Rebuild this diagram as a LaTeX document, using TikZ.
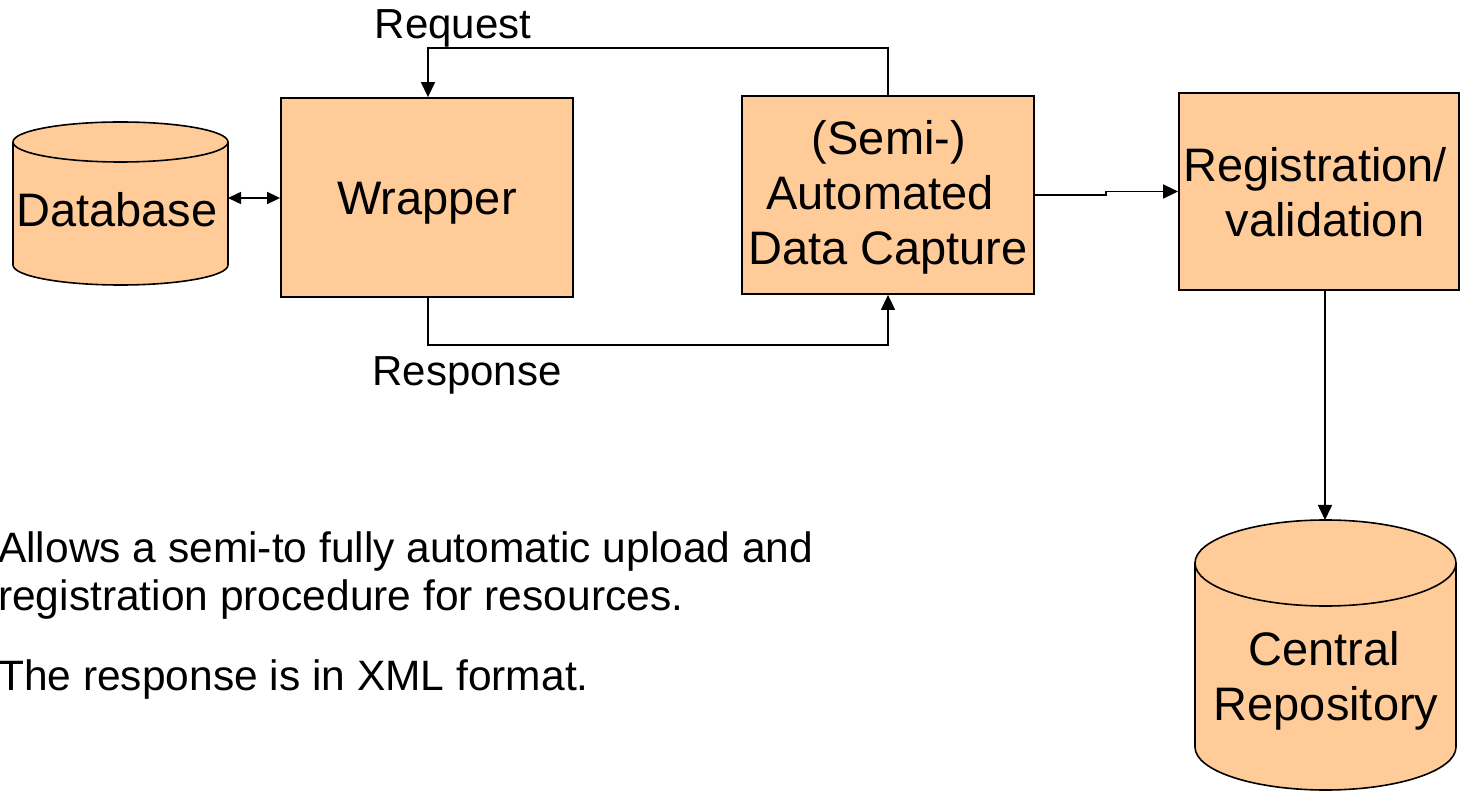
\documentclass[tikz,border=0pt]{standalone}
\usepackage{fontspec}
\setmainfont{Liberation Sans}
\usetikzlibrary{arrows.meta}
\definecolor{peach}{HTML}{FFCC99}
\tikzset{
  box/.style={draw=black, line width=1.8pt, fill=peach, minimum width=#1, inner sep=0pt},
  cyl/.style={draw=black, line width=1.6pt, fill=peach},
  boxtext/.style={anchor=base, inner sep=0pt, font=\fontsize{47pt}{55pt}\selectfont},
  lbl/.style={anchor=base, inner sep=0pt, font=\fontsize{42pt}{48pt}\selectfont},
  body/.style={anchor=base west, inner sep=0pt, font=\fontsize{42.5pt}{48pt}\selectfont},
  conn/.style={draw=black, line width=1.6pt},
  arr/.style={conn, -{Triangle[length=15pt,width=14pt]}},
  darr/.style={conn, {Triangle[length=13pt,width=12pt]}-{Triangle[length=13pt,width=12pt]}}
}
\begin{document}
\begin{tikzpicture}[x=1pt,y=1pt]
\useasboundingbox (0,0) rectangle (1460,-791);

% Database cylinder
\filldraw[cyl] (13,-142) -- (13,-265) arc[start angle=180,end angle=360,x radius=107.5,y radius=20] -- (228,-142) arc[start angle=0,end angle=180,x radius=107.5,y radius=20] -- cycle;
\draw[cyl, fill=none] (13,-142) arc[start angle=180,end angle=360,x radius=107.5,y radius=20];
\node[boxtext] (db) at (117,-227) {Database};
\coordinate (dbE) at (228,-198);

% Central repository cylinder
\filldraw[cyl] (1195,-563) -- (1195,-747) arc[start angle=180,end angle=360,x radius=130.5,y radius=43] -- (1456,-563) arc[start angle=0,end angle=180,x radius=130.5,y radius=43] -- cycle;
\draw[cyl, fill=none] (1195,-563) arc[start angle=180,end angle=360,x radius=130.5,y radius=43];
\node[boxtext] (cr1) at (1324,-665) {Central};
\node[boxtext] (cr2) at (1326,-720) {Repository};
\coordinate (crTop) at (1325,-520);

% Boxes
\node[box=292pt, minimum height=199pt] (wrap) at (427,-197.5) {};
\node[boxtext] (wrapT) at (427,-215) {Wrapper};

\node[box=292pt, minimum height=198pt] (cap) at (888,-195) {};
\node[boxtext] (cap1) at (889,-155) {(Semi-)};
\node[boxtext] (cap2) at (880,-210) {Automated};
\node[boxtext] (cap3) at (888,-265) {Data Capture};

\node[box=280pt, minimum height=197pt] (reg) at (1319,-191.5) {};
\node[boxtext] (reg1) at (1315,-182) {Registration/};
\node[boxtext] (reg2) at (1325,-237) {validation};

% Labels
\node[lbl] (req) at (453,-39) {Request};
\node[lbl] (resp) at (467,-386) {Response};

% Body text
\node[body] (t1) at (-2,-562) {Allows a semi-to fully automatic upload and};
\node[body] (t2) at (-2,-610) {registration procedure for resources.};
\node[body] (t3) at (-2,-690) {The response is in XML format.};

% Connectors
\draw[darr] (dbE) -- (dbE -| wrap.west);
\coordinate (rq) at (428,-48);
\draw[arr] (cap.north) |- (rq) -- (rq |- wrap.north);
\coordinate (rs) at (428,-345);
\draw[arr] (rs |- wrap.south) -- (rs) -| (cap.south);
\coordinate (mid) at (1106,-195);
\draw[arr] (cap.east) -- (mid) |- (reg.west);
\draw[arr] (crTop |- reg.south) -- (crTop);
\end{tikzpicture}
\end{document}
